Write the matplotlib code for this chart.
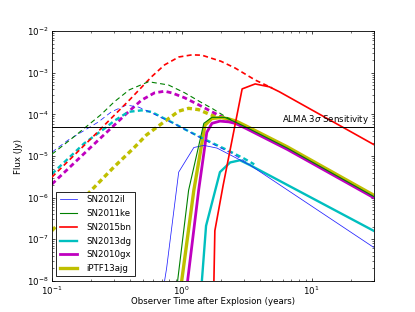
import matplotlib
matplotlib.use("Agg")
import matplotlib.pyplot as plt

# time in years, flux in Jy
# dashed = no absorption, solid = observed model
t_2012il_thin = [0.1, 0.133, 0.227, 0.287, 0.375, 0.464, 0.565, 0.70, 0.883, 1.51, 2.44, 3.37]
f_2012il_thin = [1.23e-5, 2.4e-5, 6.5e-5, 1.15e-4, 1.68e-4, 1.5e-4, 1.15e-4, 8.3e-5, 5.9e-5, 2.4e-5, 1.15e-5, 6.2e-6]
t_2012il = [0.738, 0.765, 0.948, 1.24, 1.48, 1.87, 3.37, 30]
f_2012il = [1e-8, 2e-8, 4.1e-6, 1.6e-5, 1.8e-5, 1.55e-5, 6.0e-6, 6.4e-8]

t_2011ke_thin = [0.1, 0.15, 0.24, 0.302, 0.395, 0.555, 0.79, 1.055, 1.43, 1.71, 2.15, 2.6]
f_2011ke_thin = [1.1e-5, 3.0e-5, 1.0e-4, 2.0e-4, 3.9e-4, 6.1e-4, 5.1e-4, 3.3e-4, 1.9e-4, 1.4e-4, 9.0e-5, 6.5e-5]
t_2011ke = [0.93, 1.13, 1.48, 1.71, 2.15, 2.6, 3.1, 6.5, 30]
f_2011ke = [1e-8, 1.5e-6, 6.1e-5, 8.5e-5, 8.5e-5, 6.5e-5, 5.0e-5, 1.55e-5, 1.07e-6]

t_2015bn_thin = [0.1, 0.2, 0.287, 0.4, 0.585, 0.738, 0.95, 1.2, 1.43, 2.0, 2.58, 3.68, 4.98]
f_2015bn_thin = [3.1e-6, 2.6e-5, 8.1e-5, 2.3e-4, 8.0e-4, 1.55e-3, 2.4e-3, 2.7e-3, 2.65e-3, 1.9e-3, 1.3e-3, 6.7e-4, 4.3e-4]
t_2015bn = [1.77, 1.80, 2.08, 2.92, 3.68, 4.73, 5.65, 30]
f_2015bn = [1e-8, 1.6e-7, 1.9e-6, 4.1e-4, 5.4e-4, 4.6e-4, 3.5e-4, 1.9e-5]

t_2013dg_thin = [0.1, 0.177, 0.262, 0.302, 0.388, 0.49, 0.585, 0.70, 0.837, 1.055, 1.51, 2.23, 3.02, 3.62]
f_2013dg_thin = [3.7e-6, 2.0e-5, 4.9e-5, 7.0e-5, 1.15e-4, 1.25e-4, 1.15e-4, 8.6e-5, 6.5e-5, 4.4e-5, 2.5e-5, 1.4e-5, 8.7e-6, 6.3e-6]
t_2013dg = [1.43, 1.54, 1.97, 2.36, 2.81, 3.37, 30]
f_2013dg = [1e-8, 2.1e-7, 4.1e-6, 7.0e-6, 7.9e-6, 6.0e-6, 1.6e-7]

t_2010gx_thin = [0.1, 0.2, 0.302, 0.388, 0.49, 0.618, 0.738, 0.837, 1.055, 1.35, 1.62, 2.1, 2.6]
f_2010gx_thin = [2.1e-6, 1.64e-5, 5.5e-5, 1.15e-4, 2.2e-4, 3.3e-4, 3.6e-4, 3.3e-4, 2.5e-4, 1.7e-4, 1.26e-4, 8.3e-5, 6.05e-5]
t_2010gx = [1.11, 1.35, 1.56, 1.71, 1.97, 2.31, 2.6, 3.1, 6.5, 30]
f_2010gx = [1e-8, 1.5e-6, 3.7e-5, 6.1e-5, 6.9e-5, 6.6e-5, 6.05e-5, 4.65e-5, 1.44e-5, 1.0e-6]

t_13ajg_thin = [0.1, 0.15, 0.2, 0.3, 0.425, 0.535, 0.675, 0.837, 0.95, 1.13, 1.35, 1.71, 2.04, 2.6]
f_13ajg_thin = [1.6e-7, 5.9e-7, 1.47e-6, 5.4e-6, 1.53e-5, 3.2e-5, 5.5e-5, 9.0e-5, 1.2e-4, 1.4e-4, 1.3e-4, 9.5e-5, 8.5e-5, 7.0e-5]
t_13ajg = [1.0, 1.24, 1.51, 1.71, 2.04, 2.6, 3.1, 6.5, 30]
f_13ajg = [1e-8, 1.5e-6, 5.5e-5, 8.0e-5, 8.4e-5, 7.0e-5, 5.35e-5, 1.66e-5, 1.15e-6]

alma_limit = 5e-5

names = ["SN2012il", "SN2011ke", "SN2015bn", "SN2013dg", "SN2010gx", "iPTF13ajg"]
thin_curves = [(t_2012il_thin, f_2012il_thin), (t_2011ke_thin, f_2011ke_thin),
               (t_2015bn_thin, f_2015bn_thin), (t_2013dg_thin, f_2013dg_thin),
               (t_2010gx_thin, f_2010gx_thin), (t_13ajg_thin, f_13ajg_thin)]
obs_curves = [(t_2012il, f_2012il), (t_2011ke, f_2011ke), (t_2015bn, f_2015bn),
              (t_2013dg, f_2013dg), (t_2010gx, f_2010gx), (t_13ajg, f_13ajg)]
colors = ["#2020ff", "#008000", "r", "c", "m", "y"]
widths = [0.55, 0.8, 1.2, 1.7, 2.0, 2.4]
zorders = [2.6, 2.9, 2.7, 2.5, 2.4, 2.3]

plt.rcParams["font.size"] = 6.2
plt.rcParams["lines.scale_dashes"] = False
plt.rcParams["xtick.direction"] = "in"
plt.rcParams["ytick.direction"] = "in"
plt.rcParams["xtick.top"] = True
plt.rcParams["ytick.right"] = True
plt.rcParams["xtick.major.size"] = 2.5
plt.rcParams["ytick.major.size"] = 2.5
plt.rcParams["xtick.minor.size"] = 1.3
plt.rcParams["ytick.minor.size"] = 1.3
plt.rcParams["xtick.major.width"] = 0.5
plt.rcParams["ytick.major.width"] = 0.5
plt.rcParams["xtick.minor.width"] = 0.4
plt.rcParams["ytick.minor.width"] = 0.4
plt.rcParams["xtick.major.pad"] = 2.5
plt.rcParams["ytick.major.pad"] = 2.5

fig = plt.figure(figsize=(4.15, 3.12), dpi=100)
fig.subplots_adjust(left=0.125, right=0.9, bottom=0.1, top=0.9)
ax = fig.add_subplot(111)

for i in range(len(names)):
    ax.plot(thin_curves[i][0], thin_curves[i][1], color=colors[i], lw=widths[i],
            linestyle=(0, (3.6, 2.4)), zorder=zorders[i] - 0.1)
    ax.plot(obs_curves[i][0], obs_curves[i][1], color=colors[i], lw=widths[i],
            label=names[i], zorder=zorders[i])

ax.axhline(alma_limit, color="k", lw=0.7, zorder=3)
ax.text(28, 5.2e-5, r"ALMA 3$\sigma$ Sensitivity", ha="right", va="bottom")

ax.set_xscale("log")
ax.set_yscale("log")
ax.set_xlim(0.1, 30)
ax.set_ylim(1e-8, 1e-2)
ax.set_xlabel("Observer Time after Explosion (years)", labelpad=0.5)
ax.set_ylabel("Flux (Jy)", labelpad=2.5)
for s in ax.spines.values():
    s.set_linewidth(0.6)

leg = ax.legend(loc="lower left", fancybox=False, framealpha=1, edgecolor="k",
                handletextpad=1.1, labelspacing=0.55)
leg.get_frame().set_linewidth(0.6)

fig.savefig("out.png", dpi=100)
